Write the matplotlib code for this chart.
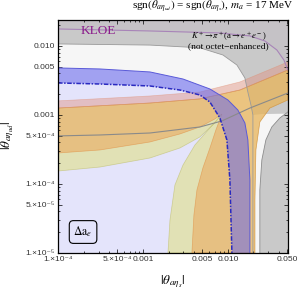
import numpy as np
import matplotlib
matplotlib.use('Agg')
import matplotlib.pyplot as plt
from matplotlib.ticker import FixedLocator, LogLocator, NullFormatter

plt.rcParams['mathtext.fontset'] = 'stix'

# contour points; x = |theta_a eta_s|, y = |theta_a eta_ud|
# Delta a_e band (outer edge / inner dash-dotted edge)
blue_out_x = [1e-4, 3.12e-4, 1.21e-3, 2.96e-3, 6.14e-3, 0.0100, 0.0131, 0.01585, 0.01718, 0.01815, 0.01815]
blue_out_y = [4.8e-3, 4.64e-3, 4.2e-3, 3.32e-3, 2.38e-3, 1.65e-3, 1.18e-3, 7.66e-4, 4.35e-4, 1.14e-4, 1e-5]
blue_in_x = [1e-4, 3.12e-4, 1.21e-3, 2.72e-3, 4.68e-3, 6.14e-3, 8.05e-3, 9.73e-3, 0.01056, 0.01115]
blue_in_y = [2.91e-3, 2.81e-3, 2.63e-3, 2.30e-3, 1.95e-3, 1.54e-3, 9.05e-4, 4.35e-4, 1.14e-4, 1e-5]

# KLOE boundary
kloe_x = [1e-4, 1.21e-3, 4.68e-3, 8.74e-3, 0.01276, 0.01585, 0.01718, 0.01866, 0.0197]
kloe_y = [0.0107, 0.0103, 0.0094, 0.0074, 0.0053, 0.00344, 0.00215, 0.0014, 1.0e-3]
# lower right grey region
kr_x = [0.0508, 0.0409, 0.0329, 0.028, 0.0251, 0.02378, 0.02378]
kr_y = [1.105e-3, 9.05e-4, 6.70e-4, 4.35e-4, 2.23e-4, 8.19e-5, 1e-5]

# K+ -> pi+ (a -> e+e-) line
kpi_x = [1e-4, 1.21e-3, 8.05e-3, 0.01815, 0.02725, 0.0377, 0.0456, 0.0508]
kpi_y = [0.01763, 0.01649, 0.01543, 0.01396, 0.01181, 0.00875, 0.00627, 0.00449]

# orange band, lower-left edge (left branch then bottom branch)
or_lo_x = [1e-4, 3.12e-4, 1.21e-3, 2.72e-3, 4.68e-3, 7.03e-3, 8.5e-3,
           7.22e-3, 6.14e-3, 5.08e-3, 4.32e-3, 3.98e-3, 3.77e-3]
or_lo_y = [2.81e-4, 3.11e-4, 4.06e-4, 5.30e-4, 6.70e-4, 8.75e-4, 1.03e-3,
           6.06e-4, 3.32e-4, 1.71e-4, 8.19e-5, 3.55e-5, 1e-5]
# orange band, upper-right edge (bottom branch up, then top branch to the left)
or_hi_x = [0.0208, 0.0208, 0.02135, 0.02378, 0.0312, 0.0508,
           0.0508, 0.01384, 4.68e-3, 1.21e-3, 1e-4]
or_hi_y = [1e-5, 5.86e-5, 3.11e-4, 7.92e-4, 1.26e-3, 1.65e-3,
           4.49e-3, 2.30e-3, 1.71e-3, 1.49e-3, 1.26e-3]
# yellow band, lower-left edge
ye_lo_x = [1e-4, 3.12e-4, 1.21e-3, 2.72e-3, 4.68e-3, 7.03e-3, 8.5e-3,
           6.14e-3, 4.09e-3, 2.96e-3, 2.38e-3, 2.08e-3, 1.97e-3]
ye_lo_y = [1.54e-4, 1.76e-4, 2.38e-4, 3.32e-4, 4.80e-4, 7.66e-4, 1.03e-3,
           6.48e-4, 3.67e-4, 1.88e-4, 9.67e-5, 3.0e-5, 1e-5]
# salmon strip above the orange band
sa_x = [1e-4, 1.21e-3, 4.68e-3, 0.01384, 0.0508]
sa_y = [1.60e-3, 1.885e-3, 2.15e-3, 3.01e-3, 5.86e-3]
# grey line
gl_x = [1e-4, 3.12e-4, 1.21e-3, 4.68e-3, 8.5e-3, 0.01815, 0.0508]
gl_y = [4.97e-4, 5.13e-4, 5.48e-4, 6.70e-4, 8.19e-4, 1.26e-3, 2.08e-3]

xticks = [1e-4, 5e-4, 1e-3, 5e-3, 1e-2, 5e-2]
xlabels = ['1.×10⁻⁴', '5.×10⁻⁴', '0.001', '0.005', '0.010', '0.050']
yticks = [1e-5, 5e-5, 1e-4, 5e-4, 1e-3, 5e-3, 1e-2]
ylabels = ['1.×10⁻⁵', '5.×10⁻⁵', '1.×10⁻⁴', '5.×10⁻⁴', '0.001', '0.005', '0.010']

fig = plt.figure(figsize=(3.0, 2.92), dpi=100)
ax = fig.add_axes([0.1933, 0.1336, 0.7667, 0.798])
ax.set_xscale('log')
ax.set_yscale('log')
ax.set_facecolor('#f6f6f6')

# lavender Delta a_e area
ax.fill(blue_out_x + [1e-4], blue_out_y + [1e-5], color='#e4e4fb', lw=0)

# KLOE grey
ax.fill([1e-4] + kloe_x + [0.0251, 0.06, 0.06, 1e-4],
        [0.03] + kloe_y + [1.03e-3, 1.05e-3, 0.03, 0.03], color='#c9c9c9', lw=0)
ax.fill(kr_x + [0.06, 0.06], kr_y + [1e-5, 1.105e-3], color='#c9c9c9', lw=0)
ax.plot(kr_x, kr_y, color='#8c8c8c', lw=0.6)
ax.plot(kloe_x + [0.0197], kloe_y + [1e-5], color='#9a9a9a', lw=0.6)

# K+ region
ax.fill(kpi_x + [0.06, 1e-4], kpi_y + [0.03, 0.03], color='#b090b8', alpha=0.12, lw=0)
ax.plot(kpi_x, kpi_y, color='#a884b8', lw=0.8)

# yellow and orange bands
ax.fill(ye_lo_x + or_hi_x, ye_lo_y + or_hi_y, facecolor='#e0e070', alpha=0.5,
        edgecolor='#b4b450', lw=0.5)
ax.fill(or_lo_x + or_hi_x, or_lo_y + or_hi_y, facecolor='#eca050', alpha=0.5,
        edgecolor='#e08030', lw=0.5)
ax.fill(sa_x + or_hi_x[-5:], sa_y + or_hi_y[-5:],
        facecolor='#e09080', alpha=0.45, edgecolor='#e08a6a', lw=0.5)

ax.plot(gl_x, gl_y, color='#8a8a8a', lw=0.8)

# blue band
ax.fill(blue_out_x + blue_in_x[::-1], blue_out_y + blue_in_y[::-1],
        facecolor='#6a6aea', alpha=0.55, lw=0)
ax.plot(blue_out_x, blue_out_y, color='#5a5ad8', lw=0.7)
ax.plot(blue_in_x, blue_in_y, color='#2a2ac0', lw=1.1, ls=(0, (3, 1, 1, 1)))

ax.set_xlim(1e-4, 0.051)
ax.set_ylim(1e-5, 0.0238)

ax.xaxis.set_major_locator(FixedLocator(xticks))
ax.set_xticklabels(xlabels)
ax.yaxis.set_major_locator(FixedLocator(yticks))
ax.set_yticklabels(ylabels)
for a in (ax.xaxis, ax.yaxis):
    a.set_minor_locator(LogLocator(base=10, subs=np.arange(2, 10)))
    a.set_minor_formatter(NullFormatter())
ax.tick_params(which='both', direction='in', top=True, right=True, width=0.5,
               labelsize=6, labelcolor='#333333', pad=2)
ax.tick_params(which='major', length=3)
ax.tick_params(which='minor', length=1.5)
for lab in ax.get_xticklabels() + ax.get_yticklabels():
    lab.set_family(['Liberation Sans', 'DejaVu Sans'])
for s in ax.spines.values():
    s.set_linewidth(0.9)

fig.text(0.977, 0.976, r'sgn$(\theta_{a\eta_{ud}})$ = sgn$(\theta_{a\eta_s})$, $m_a$ = 17 MeV',
         ha='right', va='center', fontsize=8, family='Liberation Serif')
fig.text(0.577, 0.034, r'$|\theta_{a\eta_s}|$', ha='center', va='center', fontsize=9.5)
fig.text(0.025, 0.535, r'$|\theta_{a\eta_{ud}}|$', ha='center', va='center',
         fontsize=9.5, rotation=90)

ax.text(0.174, 0.953, 'KLOE', transform=ax.transAxes, ha='center', va='center',
        fontsize=9.5, color='#8b1c8b', family='Liberation Serif')
ax.text(0.743, 0.931, r'$K^+\!\rightarrow\!\pi^+$(a$\rightarrow$$e^+e^-$)', transform=ax.transAxes,
        ha='center', va='center', fontsize=6.2, family='Liberation Serif')
ax.text(0.739, 0.888, '(not octet−enhanced)', transform=ax.transAxes,
        ha='center', va='center', fontsize=6.8, family='Liberation Serif')
ax.text(0.109, 0.09, r'$\Delta\mathrm{a}_e$', transform=ax.transAxes, ha='center', va='center',
        fontsize=8.5, bbox=dict(boxstyle='round,pad=0.35', facecolor='none', edgecolor='black', lw=0.8))

fig.savefig('out.png', dpi=100)
